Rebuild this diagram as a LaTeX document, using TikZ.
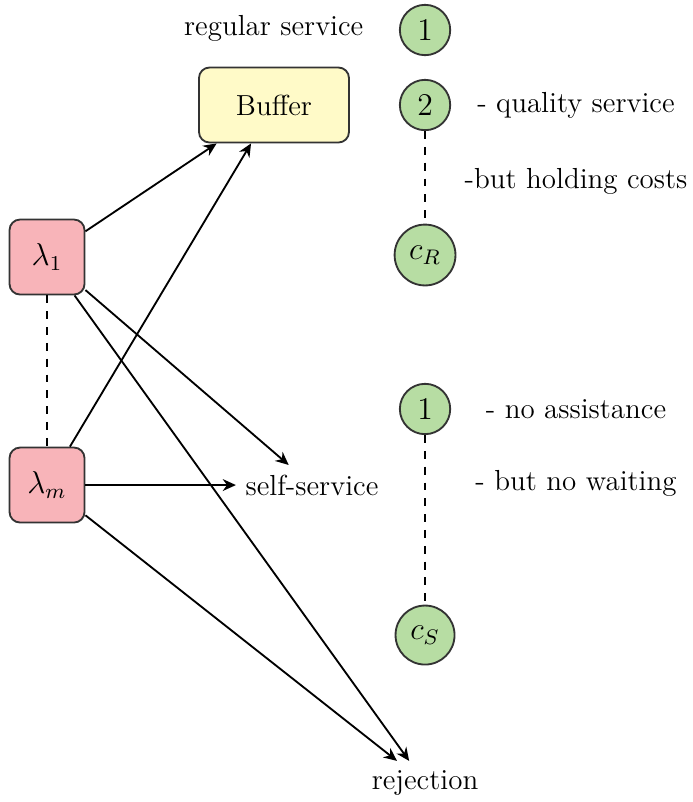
\documentclass[tikz,border=0pt]{standalone}
\usepackage{amsmath,amssymb}
\usepackage{xcolor}
\usepackage{tikz}
\usetikzlibrary{positioning,%
  shapes.geometric,%
  arrows.meta,%
  calc%
}
\definecolor{srvgreen}{RGB}{183,221,163}
\definecolor{arrpink}{RGB}{248,180,185}
\definecolor{bufyellow}{RGB}{255,250,200}

\begin{document}
\begin{tikzpicture}
                    [every node/.style={font=\fontsize{11}{13}\selectfont},
                    arr/.style={rectangle, rounded corners=4pt,
                        minimum size=1cm,
                        font=\fontsize{12}{14}\selectfont,
                        fill=arrpink, draw=black!80},
                    buf/.style={rectangle, rounded corners=4pt,
                        minimum width=2cm, minimum height=1cm,
                        fill=bufyellow, draw=black!80},
                    srv/.style={circle,
                        font=\fontsize{12}{14}\selectfont,
                        fill=srvgreen, draw=black!80},
                    line width=0.7pt, >={Stealth[length=5pt,width=4.5pt]}]

                    \useasboundingbox (0,0) rectangle (9.227,-10.693);

                    % left: arrival classes
                    \node[arr] (l1) at (0.627,-3.427) {$\lambda_1$};
                    \node[arr] (lm) at (0.627,-6.467) {$\lambda_m$};

                    % middle
                    \node[buf] (buf) at (3.653,-1.4) {Buffer};
                    \node (self) at (4.16,-6.467) {self-service};
                    \node (rej) at (5.667,-10.44) {rejection};
                    \node (reg) at (3.65,-0.373) {regular service};

                    % right: service levels
                    \node[srv] (r1) at (5.667,-0.4) {$1$};
                    \node[srv] (r2) at (5.667,-1.4) {$2$};
                    \node[srv] (rc) at (5.667,-3.4) {$c_R$};
                    \node[srv] (s1) at (5.667,-5.453) {$1$};
                    \node[srv] (sc) at (5.667,-8.467) {$c_S$};

                    \node (q1) at (7.68,-1.4) {- quality service};
                    \node (q2) at (7.68,-2.413) {-but holding costs};
                    \node (n1) at (7.68,-5.453) {- no assistance};
                    \node (n2) at (7.68,-6.44) {- but no waiting};

                    \draw[dashed] (r2) -- (rc);
                    \draw[dashed] (s1) -- (sc);
                    \draw[dashed] (l1) -- (lm);

                    \path[->]
                        (l1)    edge (buf)
                        (l1)    edge (self)
                        (l1)    edge (rej)
                        (lm)    edge (buf)
                        (lm)    edge (self)
                        (lm)    edge (rej);
                \end{tikzpicture}
\end{document}
